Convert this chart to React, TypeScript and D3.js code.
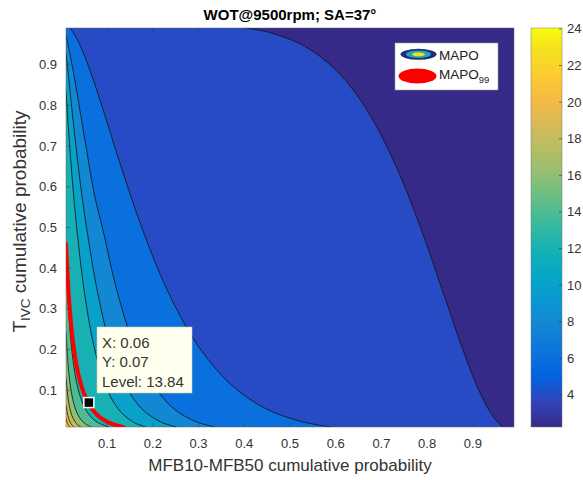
import React from 'react';
import * as d3 from 'd3';

const W = 583;
const H = 480;
const PLOT = { left: 66, right: 514, top: 28, bottom: 427 };
const CBAR = { left: 531, right: 562 };

const X_DOMAIN = [0.01, 0.99];
const Y_DOMAIN = [0.01, 0.99];
const X_TICKS = [0.1, 0.2, 0.3, 0.4, 0.5, 0.6, 0.7, 0.8, 0.9];
const Y_TICKS = [0.1, 0.2, 0.3, 0.4, 0.5, 0.6, 0.7, 0.8, 0.9];
const CBAR_TICKS = [4, 6, 8, 10, 12, 14, 16, 18, 20, 22, 24];
const C_RANGE = [2.25, 24.05];

// MATLAB parula colormap, sampled rows 1,5,...,61,64 of the 64-entry table
const PARULA_POS = [0, 4, 8, 12, 16, 20, 24, 28, 32, 36, 40, 44, 48, 52, 56, 60, 63].map(r => r / 63);
const PARULA = [
  '#352a87', '#3243ba', '#0363e1', '#0d75dc', '#1485d4', '#0998d1', '#06a7c6', '#15b1b4',
  '#38b99e', '#65be86', '#92bf73', '#b7bd64', '#d9ba56', '#f8bb44', '#fcce2e', '#f5e41d', '#f9fb0e',
];

// MAPO contour lines [MFB10-MFB50 prob, T_IVC prob], from the left/top edge to the bottom edge
const MAPO_4 = [
  [0.404, 0.99], [0.461, 0.9772], [0.532, 0.9452], [0.602, 0.8849], [0.6686, 0.7881], [0.73, 0.6554],
  [0.7855, 0.5], [0.8337, 0.3446], [0.8743, 0.2119], [0.9074, 0.1151], [0.9334, 0.0548], [0.9535, 0.0228], [0.966, 0.01],
];
const MAPO_6 = [
  [0.0181, 0.99], [0.0267, 0.9772], [0.0416, 0.9452], [0.0628, 0.8849], [0.0915, 0.7881], [0.1288, 0.6554],
  [0.1757, 0.5], [0.2321, 0.3446], [0.2974, 0.2119], [0.37, 0.1151], [0.4475, 0.0548], [0.527, 0.0228], [0.5913, 0.01],
];
const MAPO_8 = [
  [0.01, 0.9722], [0.0175, 0.9332], [0.0297, 0.859], [0.0498, 0.7257], [0.0724, 0.5793], [0.0909, 0.493],
  [0.1215, 0.3446], [0.1584, 0.2119], [0.2002, 0.1151], [0.2459, 0.0548], [0.295, 0.0228], [0.336, 0.01],
];
const MAPO_10 = [
  [0.01, 0.929], [0.0166, 0.859], [0.0291, 0.7257], [0.0447, 0.5793], [0.0559, 0.493], [0.0783, 0.3446],
  [0.1064, 0.2119], [0.1387, 0.1151], [0.1757, 0.0548], [0.2165, 0.0228], [0.252, 0.01],
];
const MAPO_12 = [
  [0.01, 0.8377], [0.0164, 0.7257], [0.0266, 0.5793], [0.034, 0.493], [0.0498, 0.3446], [0.0704, 0.2119],
  [0.0951, 0.1151], [0.1239, 0.0548], [0.156, 0.0228], [0.1844, 0.01],
];
const MAPO_14 = [
  [0.01, 0.4215], [0.0139, 0.3264], [0.0179, 0.2578], [0.0228, 0.1977], [0.0287, 0.1469], [0.0359, 0.1056],
  [0.0446, 0.0735], [0.0548, 0.0495], [0.0668, 0.0322], [0.0808, 0.0202], [0.1035, 0.01],
];
const MAPO_16 = [
  [0.01, 0.2426], [0.0139, 0.1711], [0.0179, 0.1251], [0.0228, 0.0885], [0.0287, 0.0606], [0.0359, 0.0401],
  [0.0446, 0.0256], [0.0548, 0.0158], [0.0653, 0.01],
];
const MAPO_18 = [
  [0.01, 0.1318], [0.0139, 0.0853], [0.0179, 0.0582], [0.0228, 0.0384], [0.0287, 0.0244], [0.0359, 0.015], [0.0425, 0.01],
];
const MAPO_20 = [
  [0.01, 0.0645], [0.0139, 0.0384], [0.0179, 0.0244], [0.0228, 0.015], [0.0273, 0.01],
];
const MAPO_22 = [
  [0.01, 0.0323], [0.0122, 0.0228], [0.0139, 0.0179], [0.0158, 0.0139], [0.0185, 0.01],
];
const LEVELS = [4, 6, 8, 10, 12, 14, 16, 18, 20, 22];
const LEVEL_LINES = [MAPO_4, MAPO_6, MAPO_8, MAPO_10, MAPO_12, MAPO_14, MAPO_16, MAPO_18, MAPO_20, MAPO_22];

// MAPO99 iso-line
const MAPO99_LEVEL = 13.84;
const MAPO99 = [
  [0.01, 0.4602], [0.0139, 0.371], [0.0179, 0.3047], [0.0228, 0.2441], [0.0287, 0.1908], [0.0359, 0.1453],
  [0.0446, 0.1077], [0.0548, 0.0777], [0.0668, 0.0545], [0.0808, 0.0371], [0.0968, 0.0246], [0.1151, 0.0158], [0.135, 0.01],
];
const TIP = [0.06, 0.07];

const FONT = '"Liberation Sans", Arial, Helvetica, sans-serif';

export default function App() {
  const x = d3.scaleLinear().domain(X_DOMAIN).range([PLOT.left, PLOT.right]);
  const y = d3.scaleLinear().domain(Y_DOMAIN).range([PLOT.bottom, PLOT.top]);
  const cy = d3.scaleLinear().domain(C_RANGE).range([PLOT.bottom, PLOT.top]);
  const parula = d3.scaleLinear<string>().domain(PARULA_POS).range(PARULA).interpolate(d3.interpolateRgb);
  const cnorm = d3.scaleLinear().domain(C_RANGE).range([0, 1]).clamp(true);
  const colorOf = (v: number) => parula(cnorm(v));

  const line = d3
    .line<number[]>()
    .x(d => x(d[0]))
    .y(d => y(d[1]))
    .curve(d3.curveCatmullRom.alpha(0.5));

  const fillPath = (pts: number[][]) =>
    `${line(pts)}L${x(0)},${y(0)}L${x(0)},${y(1)}Z`;

  const tipX = x(TIP[0]);
  const tipY = y(TIP[1]);

  return (
    <svg width={W} height={H} style={{ position: 'absolute', left: 0, top: 0, background: '#fff' }} fontFamily={FONT}>
      <defs>
        <clipPath id="plot-clip">
          <rect x={PLOT.left} y={PLOT.top} width={PLOT.right - PLOT.left} height={PLOT.bottom - PLOT.top} />
        </clipPath>
        <linearGradient id="cbar-grad" x1="0" y1="1" x2="0" y2="0">
          {PARULA.map((c, i) => (
            <stop key={i} offset={PARULA_POS[i]} stopColor={c} />
          ))}
        </linearGradient>
      </defs>

      <text x={(PLOT.left + PLOT.right) / 2} y={20} textAnchor="middle" fontSize={15} fontWeight="bold" fill="#000">
        WOT@9500rpm; SA=37°
      </text>

      <g clipPath="url(#plot-clip)">
        <rect x={PLOT.left} y={PLOT.top} width={PLOT.right - PLOT.left} height={PLOT.bottom - PLOT.top} fill={colorOf(C_RANGE[0])} />
        {LEVEL_LINES.map((pts, i) => (
          <path key={`f${i}`} d={fillPath(pts)} fill={colorOf(LEVELS[i])} />
        ))}
        {LEVEL_LINES.map((pts, i) => (
          <path key={`l${i}`} d={line(pts) || ''} fill="none" stroke="#111" strokeWidth={0.8} />
        ))}
        <path d={line(MAPO99) || ''} fill="none" stroke="#f00" strokeWidth={4} strokeLinecap="round" />
      </g>

      {/* ticks on all four sides, pointing inward */}
      <g stroke="#3a3a3a" strokeWidth={0.6} opacity={0.8}>
        {X_TICKS.map(t => (
          <g key={`xt${t}`}>
            <line x1={x(t)} x2={x(t)} y1={PLOT.bottom} y2={PLOT.bottom - 4.5} />
            <line x1={x(t)} x2={x(t)} y1={PLOT.top} y2={PLOT.top + 4.5} />
          </g>
        ))}
        {Y_TICKS.map(t => (
          <g key={`yt${t}`}>
            <line x1={PLOT.left} x2={PLOT.left + 4.5} y1={y(t)} y2={y(t)} />
            <line x1={PLOT.right} x2={PLOT.right - 4.5} y1={y(t)} y2={y(t)} />
          </g>
        ))}
      </g>
      <rect x={PLOT.left} y={PLOT.top} width={PLOT.right - PLOT.left} height={PLOT.bottom - PLOT.top} fill="none" stroke="#666" strokeWidth={0.5} />

      <g fontSize={13} fill="#333">
        {X_TICKS.map(t => (
          <text key={`xl${t}`} x={x(t)} y={448} textAnchor="middle">{t.toFixed(1)}</text>
        ))}
        {Y_TICKS.map(t => (
          <text key={`yl${t}`} x={57} y={y(t) + 4.5} textAnchor="end">{t.toFixed(1)}</text>
        ))}
      </g>

      <text x={(PLOT.left + PLOT.right) / 2} y={471} textAnchor="middle" fontSize={17} fill="#333">
        MFB10-MFB50 cumulative probability
      </text>
      <text transform={`translate(26,${(PLOT.top + PLOT.bottom) / 2 - 6}) rotate(-90)`} textAnchor="middle" fontSize={19} fill="#333">
        <tspan>T</tspan>
        <tspan fontSize={13.5} dy={4}>IVC</tspan>
        <tspan dy={-4}> cumulative probability</tspan>
      </text>

      {/* colorbar */}
      <rect x={CBAR.left} y={PLOT.top} width={CBAR.right - CBAR.left} height={PLOT.bottom - PLOT.top} fill="url(#cbar-grad)" stroke="#777" strokeWidth={0.5} />
      <g stroke="#333" strokeWidth={0.6}>
        {CBAR_TICKS.map(t => (
          <line key={`ct${t}`} x1={CBAR.right} x2={CBAR.right - 3} y1={cy(t)} y2={cy(t)} />
        ))}
      </g>
      <g fontSize={13} fill="#333">
        {CBAR_TICKS.map(t => (
          <text key={`cl${t}`} x={567} y={cy(t) + 4.5}>{t}</text>
        ))}
      </g>

      {/* legend */}
      <rect x={395} y={43} width={103} height={47} fill="#fff" stroke="#999" strokeWidth={0.6} />
      <ellipse cx={418.5} cy={54.3} rx={18} ry={5.5} fill="#252a7e" />
      <ellipse cx={418.5} cy={54.3} rx={12.5} ry={3.8} fill="#1ea7b4" />
      <ellipse cx={418.5} cy={54.3} rx={6.5} ry={2} fill="#e9e41e" />
      <text x={439} y={59.5} fontSize={13.5} fill="#222">MAPO</text>
      <ellipse cx={417.5} cy={76} rx={19} ry={7.5} fill="#f00" />
      <text x={439} y={79} fontSize={13.5} fill="#222">
        MAPO<tspan fontSize={9.5} dy={4}>99</tspan>
      </text>

      {/* data tip */}
      <rect x={tipX - 5} y={tipY - 5} width={10} height={10} fill="#000" stroke="#fff" strokeWidth={1.5} />
      <rect x={97} y={327} width={95} height={66} fill="#ffffee" stroke="#c8c8b4" strokeWidth={0.6} />
      <g fontSize={15} fill="#333">
        <text x={102} y={347.5}>X: {TIP[0].toFixed(2)}</text>
        <text x={102} y={367}>Y: {TIP[1].toFixed(2)}</text>
        <text x={102} y={386.5}>Level: {MAPO99_LEVEL.toFixed(2)}</text>
      </g>
    </svg>
  );
}
